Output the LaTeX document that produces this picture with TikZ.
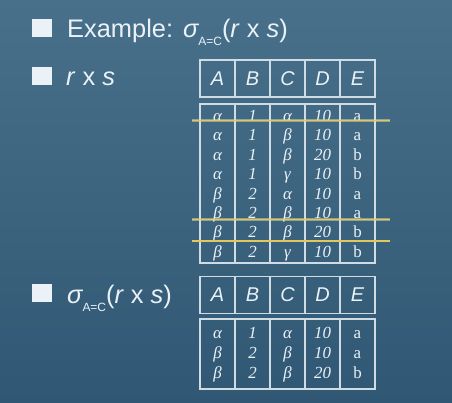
\documentclass[tikz,border=0pt]{standalone}
\usepackage{fontspec}
\setmainfont{Liberation Serif}
\setsansfont{Liberation Sans}
\definecolor{bgtop}{RGB}{72,112,138}
\definecolor{bgbot}{RGB}{48,88,116}
\definecolor{rulecol}{RGB}{208,220,228}
\definecolor{ink}{RGB}{234,242,247}
\definecolor{hilite}{RGB}{226,200,92}
\newcommand{\selsub}{\raisebox{-8bp}{\fontsize{12}{12}\selectfont A=C}}

\begin{document}
\begin{tikzpicture}[x=1bp,y=-1bp]
	\tikzstyle{bullet} = [rectangle,fill=ink,minimum width=20bp,minimum height=18bp,inner sep=0pt]
	\tikzstyle{say} = [anchor=base west,inner sep=0pt,text=ink,font=\sffamily\fontsize{25.5}{25.5}\selectfont]
	\tikzstyle{hcell} = [rectangle,draw=rulecol,line width=1.1pt,minimum width=35bp,minimum height=37bp,inner sep=0pt,text=ink,font=\sffamily\itshape\fontsize{20}{20}\selectfont]
	\tikzstyle{col} = [rectangle,draw=rulecol,line width=1.1pt,minimum width=35bp,inner sep=0pt]
	\tikzstyle{val} = [anchor=base,inner sep=0pt,text=ink,font=\itshape\fontsize{17}{17}\selectfont]
	\tikzstyle{valup} = [anchor=base,inner sep=0pt,text=ink,font=\fontsize{17}{17}\selectfont]
	
	\shade[top color=bgtop,bottom color=bgbot] (0,0) rectangle (452,402);
	\useasboundingbox (0,0) rectangle (452,402);
	
	\node[bullet](b-1) at (42,28){};
	\node[bullet](b-2) at (42,76){};
	\node[bullet](b-3) at (42,292.5){};
	
	\node[say](t-1) at (67,37) {Example:\hspace{10bp}{\itshape σ}\selsub(\textit{r} x \textit{s})};
	\node[say](t-2) at (66,85) {\textit{r} x \textit{s}};
	\node[say](t-3) at (67,303) {{\itshape σ}\selsub(\textit{r} x \textit{s})};
	
	% r x s
	\foreach \l [count=\i] in {A,B,C,D,E}{
		\node[hcell](h-\i) at (182.5+35*\i,78.5) {\l};
		\node[col,minimum height=159bp](c-\i) at (182.5+35*\i,183.5) {};
	};
	
	\foreach \a/\b/\c/\d/\e [count=\r] in {α/1/α/10/a,α/1/β/10/a,α/1/β/20/b,α/1/γ/10/b,β/2/α/10/a,β/2/β/10/a,β/2/β/20/b,β/2/γ/10/b}{
		\node[val](v-\r-1) at (217.5,102.1+19.4*\r) {\a};
		\node[val](v-\r-2) at (252.5,102.1+19.4*\r) {\b};
		\node[val](v-\r-3) at (287.5,102.1+19.4*\r) {\c};
		\node[val](v-\r-4) at (322.5,102.1+19.4*\r) {\d};
		\node[valup](v-\r-5) at (357.5,102.1+19.4*\r) {\e};
	};
	
	\coordinate (m-1l) at (192,120.7);
	\coordinate (m-1r) at (390,120.7);
	\coordinate (m-2l) at (192,219.5);
	\coordinate (m-2r) at (390,219.5);
	\coordinate (m-3l) at (192,241);
	\coordinate (m-3r) at (390,241);
	\foreach \k in {1,2,3}{
		\draw[hilite!60,line width=2.6pt,opacity=0.5] (m-\k l) -- (m-\k r);
		\draw[hilite,line width=1.3pt] (m-\k l) -- (m-\k r);
	};
	
	% sigma A=C (r x s)
	\foreach \l [count=\i] in {A,B,C,D,E}{
		\node[hcell](sh-\i) at (182.5+35*\i,294.8) {\l};
		\node[col,minimum height=70bp](sc-\i) at (182.5+35*\i,354) {};
	};
	
	\foreach \a/\b/\c/\d/\e [count=\r] in {α/1/α/10/a,β/2/β/10/a,β/2/β/20/b}{
		\node[val](s-\r-1) at (217.5,318+20*\r) {\a};
		\node[val](s-\r-2) at (252.5,318+20*\r) {\b};
		\node[val](s-\r-3) at (287.5,318+20*\r) {\c};
		\node[val](s-\r-4) at (322.5,318+20*\r) {\d};
		\node[valup](s-\r-5) at (357.5,318+20*\r) {\e};
	};
\end{tikzpicture}
\end{document}
